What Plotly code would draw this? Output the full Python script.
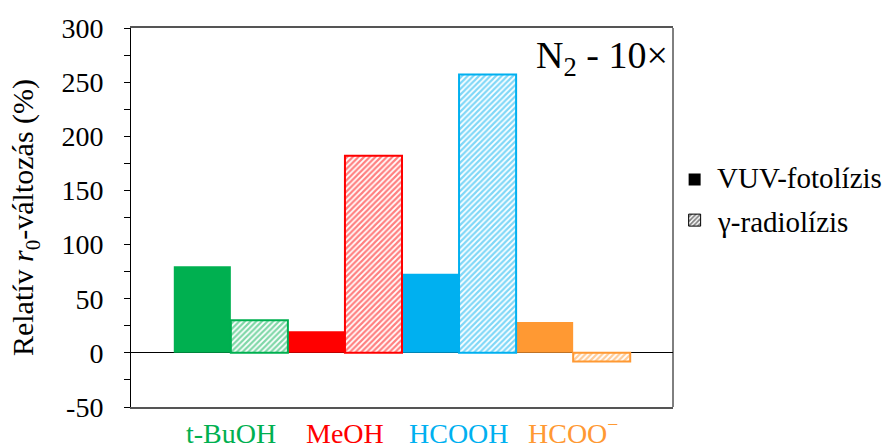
import plotly.graph_objects as go

categories = ["t-BuOH", "MeOH", "HCOOH", "HCOO<sup>−</sup>"]
colors = ["#00B050", "#FF0000", "#00B0F0", "#FF9933"]
vuv = [80, 20, 73, 28.5]
gamma = [30, 182, 257, -8]
series_names = ["VUV-fotolízis", "γ-radiolízis"]
yticks = [-50, 0, 50, 100, 150, 200, 250, 300]
yticklabels = ["-50", "0", "50", "100", "150", "200", "250", "300"]

FONT = "Times New Roman"
xs = list(range(len(categories)))


def serif(txt, size, color="black"):
    return (f'<span style="font-family:\'Times New Roman\',\'Liberation Serif\',serif;'
            f'font-size:{size}px;color:{color}">{txt}</span>')


fig = go.Figure()
fig.add_bar(x=xs, y=vuv, width=0.5, offset=-0.5,
            marker=dict(color=colors, line=dict(width=0)), showlegend=False)
fig.add_bar(x=xs, y=gamma, width=0.5, offset=0,
            marker=dict(color="white", line=dict(color=colors, width=2),
                        pattern=dict(shape="/", fgcolor=colors, bgcolor="white",
                                     size=4, solidity=0.55, fillmode="overlay")),
            showlegend=False)
# legend icons (text drawn as annotations beside them)
fig.add_bar(x=[None], y=[None], name=" ",
            marker=dict(color="black", line=dict(width=0)))
fig.add_bar(x=[None], y=[None], name=" ",
            marker=dict(color="white", line=dict(color="black", width=1),
                        pattern=dict(shape="/", fgcolor="black", bgcolor="white",
                                     size=4, solidity=0.55, fillmode="overlay")))

annotations = []
# category labels, coloured, placed on the x scale
for i, (t, c) in enumerate(zip(categories, colors)):
    annotations.append(dict(text=serif(t, 28, c), x=i, xref="x", y=0, yref="paper",
                            xanchor="center", yanchor="bottom", yshift=-44,
                            showarrow=False, font=dict(family=FONT, size=28, color=c)))
# legend texts
for name, ypos in zip(series_names, [0.604, 0.488]):
    annotations.append(dict(text=serif(name, 29), x=1.0775, xref="paper", y=ypos,
                            yref="paper", xanchor="left", yanchor="middle",
                            showarrow=False,
                            font=dict(family=FONT, size=29, color="black")))
annotations.append(dict(text="N<sub>2</sub> - 10×", xref="paper", yref="paper",
                        x=0.995, y=0.99, xanchor="right", yanchor="top",
                        showarrow=False, font=dict(family=FONT, size=38)))

fig.update_layout(
    width=890, height=444,
    margin=dict(l=131, r=217, t=28, b=37),
    barmode="overlay",
    plot_bgcolor="white", paper_bgcolor="white",
    font=dict(family=FONT, size=28, color="black"),
    showlegend=True,
    legend=dict(x=1.003, xanchor="left", y=0.546, yanchor="middle",
                font=dict(family=FONT, size=29, color="black"),
                tracegroupgap=0, itemwidth=30,
                bgcolor="rgba(0,0,0,0)"),
    xaxis=dict(range=[-0.875, 3.875], tickvals=xs, showticklabels=False,
               showline=True, linecolor="#555555", linewidth=1.5, mirror=True,
               ticks="", showgrid=False, zeroline=False, fixedrange=True,
               automargin=False),
    yaxis=dict(range=[-50, 300], tickvals=yticks, ticktext=yticklabels,
               tickfont=dict(family=FONT, size=28),
               ticklabelstandoff=15,
               showline=True, linecolor="black",
               linewidth=1, ticks="outside", ticklen=6, tickcolor="black",
               minor=dict(dtick=25, ticks="outside", ticklen=6, tickcolor="black"),
               showgrid=False, zeroline=True, zerolinecolor="black", zerolinewidth=1,
               automargin=False, fixedrange=True,
               title=dict(text="Relatív <i>r</i><sub>0</sub>-változás (%)", standoff=18,
                          font=dict(family=FONT, size=30))),
    annotations=annotations,
    shapes=[dict(type="line", xref="paper", yref="paper", x0=1, x1=1, y0=0, y1=1,
                 line=dict(color="black", width=1))],
)

fig.write_html("out.html", config={"displayModeBar": False},
               post_script="document.body.style.margin='0';document.body.style.padding='0';")
